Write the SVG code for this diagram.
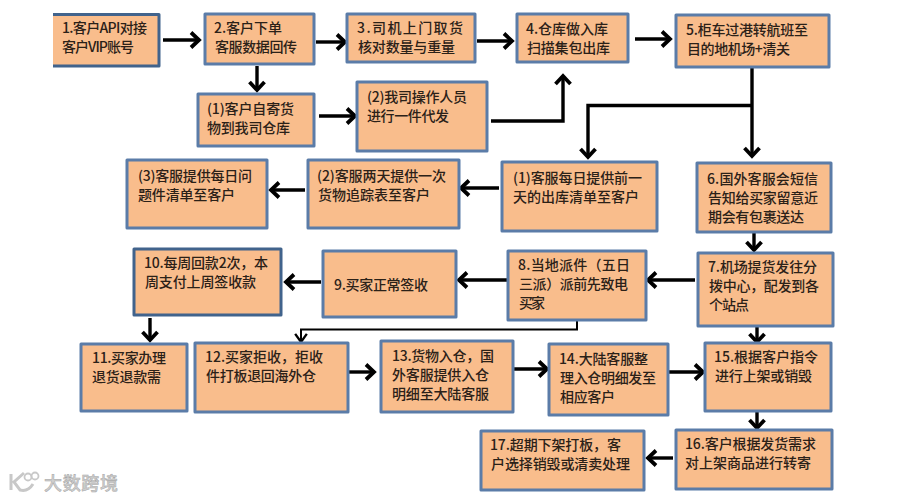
<svg xmlns="http://www.w3.org/2000/svg" width="900" height="500" viewBox="0 0 900 500">
<style>
.b{fill:#f9bd8c;stroke:#5b7ca8;stroke-width:3;stroke-linejoin:round}
.d{stroke:#41638c}
text{font-family:"Noto Sans CJK SC","Liberation Sans",sans-serif;font-size:14px;font-weight:500;fill:#2b2118}
.c{fill:none;stroke:#000;stroke-width:3.400}
.t{fill:none;stroke:#000;stroke-width:2}
.wm{font-size:18px;fill:#cfcfcf;stroke:#a8a8a8;stroke-width:.5}
.l{fill:none;stroke:#c8c8c8}
</style>
<defs>
<marker id="a" markerUnits="userSpaceOnUse" markerWidth="18" markerHeight="20" refX="13" refY="9" orient="auto" viewBox="0 0 18 18">
<path d="M5 1.500 L13 9 L5 16.500" fill="none" stroke="#000" stroke-width="3.800"/>
</marker>
<marker id="s" markerUnits="userSpaceOnUse" markerWidth="14" markerHeight="14" refX="10" refY="6" orient="auto" viewBox="0 0 12 12">
<path d="M3 1 L10 6 L3 11" fill="none" stroke="#000" stroke-width="2"/>
</marker>
</defs>
<rect width="900" height="500" fill="#fff"/>
<g id="connectors">
<path class="c" marker-end="url(#a)" d="M163 40H199"/>
<path class="c" marker-end="url(#a)" d="M316 42H345"/>
<path class="c" marker-end="url(#a)" d="M477 41H512"/>
<path class="c" marker-end="url(#a)" d="M635 39H670"/>
<path class="c" marker-end="url(#a)" d="M257 66V90"/>
<path class="c" marker-end="url(#a)" d="M319 116H355"/>
<path class="c" marker-end="url(#a)" d="M491 121H563V76"/>
<path class="c" marker-end="url(#a)" d="M752 68V156"/>
<path class="c" marker-end="url(#a)" d="M752 105.500H588V157"/>
<path class="c" marker-end="url(#a)" d="M499 188H461"/>
<path class="c" marker-end="url(#a)" d="M305 190H271"/>
<path class="c" marker-end="url(#a)" d="M754 233V250"/>
<path class="c" marker-end="url(#a)" d="M695 280H648"/>
<path class="c" marker-end="url(#a)" d="M507 280H459"/>
<path class="c" marker-end="url(#a)" d="M321 282H286"/>
<path class="c" marker-end="url(#a)" d="M150 318V340"/>
<path class="t" marker-end="url(#s)" d="M577 321V329.500H301V342"/>
<path class="c" marker-end="url(#a)" d="M349 372H374"/>
<path class="c" marker-end="url(#a)" d="M514 369H547"/>
<path class="c" marker-end="url(#a)" d="M668 372H703"/>
<path class="c" marker-end="url(#a)" d="M757 327V342"/>
<path class="c" marker-end="url(#a)" d="M757 412V428"/>
<path class="c" marker-end="url(#a)" d="M673 458H648"/>
</g>
<g id="n1"><path class="b d" d="M53 14.500H159V66H53"/><text x="62" y="33" textLength="85">1.客户API对接</text><text x="62" y="52" textLength="72">客户VIP账号</text></g>
<g id="n2"><rect class="b" x="205" y="14" width="109" height="50"/><text x="214" y="33" textLength="68">2.客户下单</text><text x="215" y="52" textLength="82">客服数据回传</text></g>
<g id="n3"><rect class="b" x="347" y="14" width="128" height="48"/><text x="357" y="33" textLength="106">3.司机上门取货</text><text x="358" y="52" textLength="97">核对数量与重量</text></g>
<g id="n4"><rect class="b" x="517" y="14" width="111" height="48"/><text x="526" y="34" textLength="82">4.仓库做入库</text><text x="527" y="53" textLength="83">扫描集包出库</text></g>
<g id="n5"><rect class="b" x="676" y="15" width="153" height="52"/><text x="686" y="35" textLength="122">5.柜车过港转航班至</text><text x="687" y="54" textLength="103">目的地机场+清关</text></g>
<g id="a1"><rect class="b" x="198" y="94" width="116" height="52"/><text x="207" y="114" textLength="87">(1)客户自寄货</text><text x="207" y="133" textLength="83">物到我司仓库</text></g>
<g id="a2"><rect class="b" x="357" y="82" width="130" height="69"/><text x="367" y="102" textLength="100">(2)我司操作人员</text><text x="367" y="121" textLength="82">进行一件代发</text></g>
<g id="c3"><rect class="b" x="127" y="160" width="140" height="68"/><text x="138" y="181" textLength="114">(3)客服提供每日问</text><text x="138" y="200" textLength="97">题件清单至客户</text></g>
<g id="c2"><rect class="b" x="308" y="160" width="151" height="68"/><text x="317" y="181" textLength="129">(2)客服两天提供一次</text><text x="318" y="200" textLength="112">货物追踪表至客户</text></g>
<g id="c1"><rect class="b" x="502" y="162" width="155" height="69"/><text x="513" y="183" textLength="129">(1)客服每日提供前一</text><text x="513" y="202" textLength="126">天的出库清单至客户</text></g>
<g id="n6"><rect class="b" x="697" y="163" width="134" height="69"/><text x="707" y="184" textLength="111">6.国外客服会短信</text><text x="708" y="203" textLength="110">告知给买家留意近</text><text x="708" y="222" textLength="96">期会有包裹送达</text></g>
<g id="n7"><rect class="b" x="698" y="253" width="135" height="73"/><text x="708" y="272" textLength="109">7.机场提货发往分</text><text x="709" y="291" textLength="110">拨中心，配发到各</text><text x="709" y="310" textLength="40">个站点</text></g>
<g id="n8"><rect class="b" x="508" y="251" width="138" height="69"/><text x="518" y="270" textLength="112">8.当地派件（五日</text><text x="519" y="289" textLength="109">三派）派前先致电</text><text x="519" y="308" textLength="26">买家</text></g>
<g id="n9"><rect class="b" x="323" y="251" width="133" height="66"/><text x="334" y="290" textLength="94">9.买家正常签收</text></g>
<g id="n10"><rect class="b d" x="134" y="249" width="147" height="66"/><text x="144" y="268" textLength="124">10.每周回款2次，本</text><text x="145" y="287" textLength="111">周支付上周签收款</text></g>
<g id="n11"><rect class="b" x="81" y="344" width="106" height="67"/><text x="92" y="363" textLength="74">11.买家办理</text><text x="92" y="382" textLength="69">退货退款需</text></g>
<g id="n12"><rect class="b" x="195" y="343" width="153" height="69"/><text x="205" y="362" textLength="118">12.买家拒收，拒收</text><text x="206" y="381" textLength="110">件打板退回海外仓</text></g>
<g id="n13"><rect class="b" x="381" y="341" width="132" height="71"/><text x="392" y="361" textLength="102">13.货物入仓，国</text><text x="392" y="380" textLength="97">外客服提供入仓</text><text x="392" y="399" textLength="97">明细至大陆客服</text></g>
<g id="n14"><rect class="b" x="549" y="344" width="119" height="71"/><text x="559" y="364" textLength="89">14.大陆客服整</text><text x="560" y="383" textLength="96">理入仓明细发至</text><text x="560" y="402" textLength="55">相应客户</text></g>
<g id="n15"><rect class="b" x="705" y="343" width="126" height="68"/><text x="714" y="362" textLength="104">15.根据客户指令</text><text x="715" y="381" textLength="97">进行上架或销毁</text></g>
<g id="n16"><rect class="b" x="676" y="430" width="156" height="59"/><text x="685" y="449" textLength="131">16.客户根据发货需求</text><text x="685" y="468" textLength="126">对上架商品进行转寄</text></g>
<g id="n17"><rect class="b" x="481" y="431" width="163" height="59"/><text x="490" y="450" textLength="131">17.超期下架打板，客</text><text x="491" y="469" textLength="139">户选择销毁或清卖处理</text></g>
<g id="watermark">
<path class="l" stroke-width="3" d="M11 474V490M24 473L14 482L20 490Q28 492 33 484"/>
<circle class="l" cx="28" cy="477" r="3.500" stroke-width="1.800"/>
<circle class="l" cx="35" cy="476" r="3.500" stroke-width="1.800"/>
<text class="wm" x="44" y="490" textLength="74">大数跨境</text>
</g>
</svg>
